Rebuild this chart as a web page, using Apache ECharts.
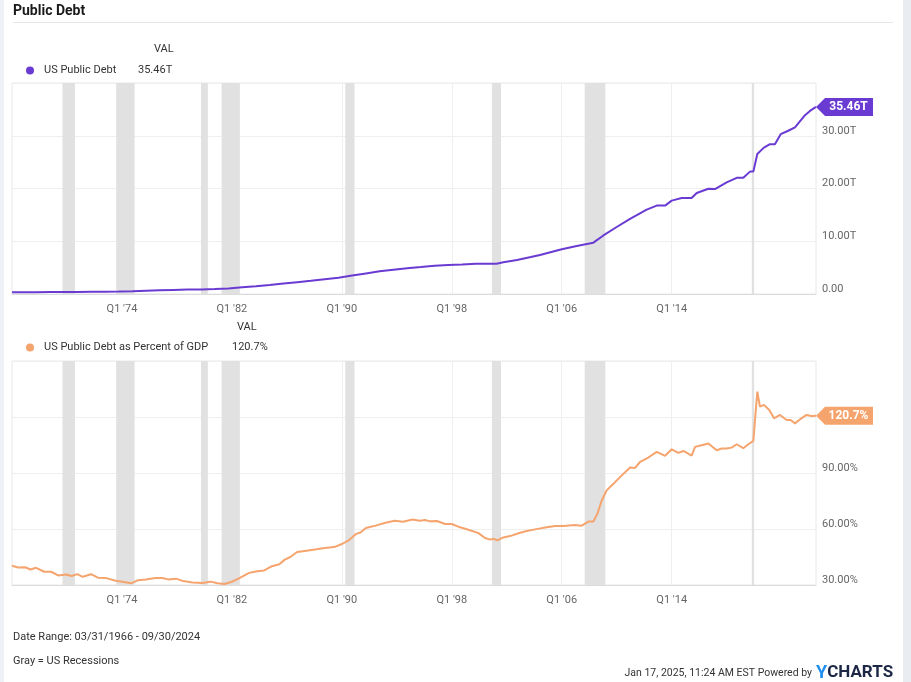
<!DOCTYPE html>
<html><head><meta charset="utf-8">
<script src="https://cdn.jsdelivr.net/npm/echarts@6/dist/echarts.min.js"></script>
<style>html,body{margin:0;padding:0;background:#fff;}#c{width:911px;height:682px;}</style>
</head><body><div id="c"></div>
<script>
// x positions are decimal years (quarter end dates); axis counts years since 03/31/1966
const START = 1966.25;
const END = 2024.75;
const xTickYears = [1974, 1982, 1990, 1998, 2006, 2014];

const debtYears = [1966.25,1967,1968,1969,1970,1971,1972,1973,1974,1975,1976,1977,1978,1979,1980,1981,1982,1983,1984,1985,1986,1987,1988,1989,1990,1991,1992,1993,1994,1995,1996,1997,1998,1999,2000,2001,2001.5,2002,2003,2004,2004.67,2006.25,2007.34,2008.55,2009.28,2010.25,2011.22,2012.43,2013.16,2013.77,2014.25,2014.98,2015.7,2016.07,2016.92,2017.4,2018.25,2018.98,2019.46,2019.95,2020.19,2020.48,2020.96,2021.4,2021.76,2022.18,2022.73,2023.22,2023.95,2024.31,2024.75];
const debtValues = [0.32,0.33,0.35,0.36,0.37,0.40,0.43,0.45,0.47,0.50,0.62,0.70,0.77,0.83,0.86,0.95,1.06,1.30,1.49,1.71,2.00,2.25,2.50,2.80,3.10,3.50,3.90,4.30,4.60,4.90,5.10,5.35,5.50,5.60,5.75,5.75,5.75,6.00,6.45,7.00,7.40,8.47,9.10,9.73,11.10,12.70,14.25,16.00,16.76,16.76,17.70,18.20,18.20,19.15,19.96,19.90,21.15,22.03,22.03,23.20,23.20,26.55,27.75,28.40,28.37,30.30,30.95,31.60,33.90,34.70,35.46];

const gdpYears = [1966.25,1966.7,1967.2,1967.6,1968.0,1968.6,1969.1,1969.6,1970.2,1970.6,1971.0,1971.4,1972.0,1972.5,1973.1,1973.8,1974.4,1974.9,1975.4,1976.0,1976.7,1977.2,1977.6,1978.2,1978.7,1979.4,1980.1,1980.7,1981.2,1981.7,1982.2,1982.8,1983.5,1984.1,1984.6,1985.1,1985.7,1986.1,1986.5,1987.0,1987.8,1988.4,1989.0,1989.7,1990.3,1990.8,1991.3,1991.6,1992.0,1992.7,1993.5,1994.1,1994.7,1995.4,1995.9,1996.3,1996.67,1997.16,1997.77,1998.25,1998.86,1999.46,2000.19,2000.67,2001.04,2001.28,2001.57,2002.0,2002.49,2003.22,2003.7,2004.31,2005.16,2005.77,2006.37,2007.2,2007.7,2008.19,2008.55,2008.84,2009.16,2009.52,2010.01,2010.49,2011.22,2011.58,2011.95,2012.55,2013.16,2013.77,2014.25,2014.73,2015.1,2015.7,2015.95,2016.43,2016.92,2017.52,2017.89,2018.25,2018.61,2018.98,2019.46,2019.83,2020.19,2020.48,2020.67,2020.96,2021.35,2021.7,2022.13,2022.61,2022.9,2023.22,2023.58,2024.06,2024.42,2024.75];
const gdpValues = [40.3,39.4,39.5,38.3,39.2,37.1,37.1,35.1,35.6,34.8,35.8,34.4,35.8,33.9,33.7,32.3,31.6,30.9,32.5,33.0,33.7,33.7,33.0,33.4,32.1,31.4,31.1,31.8,30.9,30.5,31.6,33.7,36.5,37.4,37.8,39.9,41.1,43.6,45.0,47.7,48.5,49.1,49.8,50.3,52.1,54.2,57.4,58.1,60.5,61.8,63.5,64.4,63.9,65.1,64.4,64.8,64.1,64.3,62.7,62.7,60.9,59.6,57.8,55.2,54.3,54.8,53.9,55.5,56.2,58.0,58.9,59.8,60.9,61.6,61.6,62.2,61.8,64.0,64.0,68.1,75.3,80.7,84.2,87.8,92.9,92.7,95.9,98.3,101.3,99.2,102.7,100.8,101.8,99.3,104.0,104.9,105.8,102.2,103.1,103.1,103.6,105.4,103.3,105.4,107.2,133.6,125.6,126.5,123.8,119.3,121.1,118.4,118.4,116.6,118.7,121.1,120.5,120.7];

const recessions = [[1969.92,1970.83],[1973.83,1975.17],[1980.0,1980.5],[1981.5,1982.83],[1990.5,1991.17],[2001.17,2001.83],[2007.92,2009.42],[2020.08,2020.25]];

const debtName = 'US Public Debt';
const gdpName = 'US Public Debt as Percent of GDP';
const debtLast = '35.46T';
const gdpLast = '120.7%';

const PURPLE = '#6a3bd2';
const ORANGE = '#f5a46d';
const FONT = 'Roboto';
const FS = 11;

const toX = y => y - START;
const debtData = debtYears.map((y, i) => [toX(y), debtValues[i]]);
const gdpData = gdpYears.map((y, i) => [toX(y), gdpValues[i]]);
const bands = recessions.map(r => [{xAxis: toX(r[0])}, {xAxis: toX(r[1])}]);
const vgrid = xTickYears.map(y => ({xAxis: toX(y + 0.25)}));

function xLabel(v) {
  const yr = Math.round(START + v - 0.25);
  return xTickYears.indexOf(yr) >= 0 ? "Q1 '" + String(yr).slice(2) : '';
}

function xAxisCfg(gi) {
  return {
    type: 'value', gridIndex: gi, min: 0, max: END - START, interval: 8,
    axisLine: {show: true, lineStyle: {color: '#dcdcdc', width: 1}},
    axisTick: {show: false},
    splitLine: {show: false},
    axisLabel: {formatter: xLabel, color: '#666', fontFamily: FONT, fontSize: FS, margin: 10, showMinLabel: true, showMaxLabel: true}
  };
}

function yAxisCfg(gi, min, max, interval, fmt, hide) {
  return {
    type: 'value', gridIndex: gi, position: 'right', min: min, max: max, interval: interval,
    axisLine: {show: false}, axisTick: {show: false},
    splitLine: {show: true, lineStyle: {color: '#efefef', width: 1}},
    axisLabel: {
      formatter: v => (hide.indexOf(v) >= 0 ? '' : fmt(v)),
      color: '#666', fontFamily: FONT, fontSize: FS, margin: 6,
      verticalAlign: 'bottom', lineHeight: 10
    }
  };
}

function tag(text, color, x, y) {
  return {
    symbol: 'path://M0,9 L9,0 L57,0 L57,18 L9,18 Z',
    symbolSize: [57, 18], symbolKeepAspect: false, symbolOffset: ['50%', 0],
    silent: true,
    itemStyle: {color: color},
    label: {show: true, position: 'inside', formatter: text, color: '#fff', fontFamily: FONT, fontWeight: 'bold', fontSize: 12, offset: [4, 0]},
    data: [{coord: [x, y]}]
  };
}

function series(name, data, xi, color, lastText) {
  const last = data[data.length - 1];
  return {
    name: name, type: 'line', xAxisIndex: xi, yAxisIndex: xi, data: data,
    showSymbol: false, symbol: 'none', clip: false, z: 3,
    lineStyle: {color: color, width: 2}, itemStyle: {color: color},
    markArea: {silent: true, z: 1, itemStyle: {color: '#e1e1e1'}, data: bands},
    markLine: {silent: true, z: 0, symbol: 'none', label: {show: false},
      lineStyle: {color: '#efefef', width: 1, type: 'solid'}, data: vgrid},
    markPoint: tag(lastText, color, last[0], last[1])
  };
}

function legendCfg(name, value, top, nameWidth) {
  return {
    data: [name], left: 21, top: top, icon: 'circle', itemWidth: 18, itemHeight: 8,
    selectedMode: false,
    textStyle: {
      fontFamily: FONT, fontSize: FS, color: '#333',
      rich: {n: {width: nameWidth, fontFamily: FONT, fontSize: FS, color: '#333'},
             v: {fontFamily: FONT, fontSize: FS, color: '#333'}}
    },
    formatter: n => '{n|' + n + '}{v|' + value + '}'
  };
}

function txt(text, x, y, opts) {
  return {type: 'text', silent: true, style: Object.assign({
    text: text, x: x, y: y, fill: '#333', font: FS + 'px ' + FONT,
    textVerticalAlign: 'middle', verticalAlign: 'middle', textAlign: 'left', align: 'left'
  }, opts || {})};
}

const chart = echarts.init(document.getElementById('c'), null, {renderer: 'canvas'});
chart.setOption({
  animation: false,
  backgroundColor: '#ffffff',
  title: {text: 'Public Debt', left: 9, top: 4, padding: [0, 4],
    textStyle: {fontFamily: FONT, fontSize: 14, fontWeight: 'bold', color: '#1a1a1a'}},
  legend: [legendCfg(debtName, debtLast, 60, 94), legendCfg(gdpName, gdpLast, 337, 188)],
  grid: [
    {left: 12, right: 95, top: 83, height: 211, show: true, borderColor: '#e8e8e8', borderWidth: 1, backgroundColor: 'transparent'},
    {left: 12, right: 95, top: 361, height: 224, show: true, borderColor: '#e8e8e8', borderWidth: 1, backgroundColor: 'transparent'}
  ],
  xAxis: [xAxisCfg(0), xAxisCfg(1)],
  yAxis: [
    yAxisCfg(0, 0, 40, 10, v => (v === 0 ? '0.00' : v.toFixed(2) + 'T'), [40]),
    yAxisCfg(1, 30, 150, 30, v => v.toFixed(2) + '%', [120, 150])
  ],
  series: [
    series(debtName, debtData, 0, PURPLE, debtLast),
    series(gdpName, gdpData, 1, ORANGE, gdpLast)
  ],
  graphic: [
    {type: 'rect', silent: true, shape: {x: 0, y: 0, width: 4, height: 682}, style: {fill: '#eef1f5'}},
    {type: 'rect', silent: true, shape: {x: 903, y: 0, width: 8, height: 682}, style: {fill: '#e9edf2'}},
    {type: 'line', silent: true, shape: {x1: 13, y1: 22.5, x2: 893, y2: 22.5}, style: {stroke: '#e6e6e6', lineWidth: 1}},
    txt('VAL', 154, 49),
    txt('VAL', 237, 327),
    txt('Date Range: 03/31/1966 - 09/30/2024', 13, 637),
    txt('Gray = US Recessions', 13, 661),
    txt('Jan 17, 2025, 11:24 AM EST Powered by', 812, 673, {textAlign: 'right', align: 'right', font: '10.5px ' + FONT}),
    {type: 'text', silent: true, style: {
      text: '{y|Y}{c|CHARTS}', x: 816, y: 673, textVerticalAlign: 'middle', verticalAlign: 'middle',
      rich: {y: {fill: '#1f8ef1', color: '#1f8ef1', fontFamily: FONT, fontWeight: 'bold', fontSize: 18},
             c: {fill: '#1b2744', color: '#1b2744', fontFamily: FONT, fontWeight: 'bold', fontSize: 17}}
    }}
  ]
});
</script>
</body></html>
